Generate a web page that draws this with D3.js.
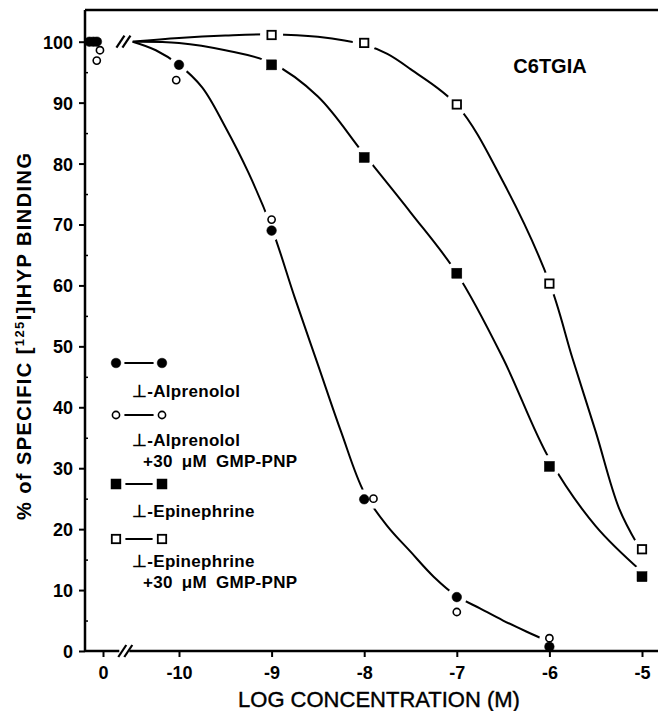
<!DOCTYPE html>
<html lang="en">
<head>
	<meta charset="utf-8">
	<title>C6TGIA binding</title>
	<script src="https://d3js.org/d3.v7.min.js"></script>
	<style>
		body { margin: 0; background: #fff; }
		svg text { font-family: "Liberation Sans", Arial, sans-serif; fill: #000; }
		.tick text { font-weight: bold; }
	</style>
</head>
<body>
	<script>
		var width = 658;
		var height = 711;

		// log concentration (M) ticks and y ticks
		var logConc = [-10, -9, -8, -7, -6, -5];
		var yTicks = [0, 10, 20, 30, 40, 50, 60, 70, 80, 90, 100];
		var yMinor = [5, 15, 25, 35, 45, 55, 65, 75, 85, 95];

		var alpX = [-10, -9, -8, -7, -6];
		var alpY = [96.2, 69, 24.9, 8.85, 0.7];
		var alpGmpX = [-10.03, -9, -7.9, -7, -6];
		var alpGmpY = [93.7, 70.8, 25, 6.4, 2.1];
		var epiX = [-9, -8, -7, -6, -5];
		var epiY = [96.2, 81, 62, 30.3, 12.2];
		var epiGmpX = [-9, -8, -7, -6, -5];
		var epiGmpY = [101.1, 99.8, 89.7, 60.3, 16.7];

		// control (no drug) points, plotted at "0"
		var ctlFilledX = [-0.85, -0.6, -0.38];
		var ctlFilledY = [100, 100, 100];
		var ctlOpenX = [-0.19, -0.39];
		var ctlOpenY = [98.6, 96.9];

		// hand-drawn fitted curves (log conc, % binding)
		var alpCurve = [[-10.5, 100], [-10.25, 98.6], [-10, 96.2], [-9.75, 92.5], [-9.5, 86],
			[-9.25, 78.5], [-9, 69.5], [-8.75, 58], [-8.5, 47], [-8.25, 36], [-8, 26],
			[-7.75, 20.5], [-7.5, 16.3], [-7.25, 12.2], [-7, 9], [-6.75, 7], [-6.5, 5],
			[-6.25, 3.2], [-6, 1.5]];
		var epiCurve = [[-10.5, 100], [-10, 99.8], [-9.5, 98.6], [-9, 96.5], [-8.5, 91],
			[-8, 81.5], [-7.5, 72], [-7, 62], [-6.5, 48], [-6, 31.5], [-5.5, 20.5], [-5, 13]];
		var epiGmpCurve = [[-10.5, 100], [-10, 100.6], [-9.5, 101], [-9, 101.2], [-8.5, 100.8],
			[-8, 99.5], [-7.75, 98], [-7.5, 95.5], [-7, 89.6], [-6.5, 77], [-6, 60.5],
			[-5.75, 48], [-5.5, 36], [-5.25, 23.5], [-5.05, 17.5]];

		var legendLabels = [
			["⊥-Alprenolol"],
			["⊥-Alprenolol", "+30 μM GMP-PNP"],
			["⊥-Epinephrine"],
			["⊥-Epinephrine", "+30 μM GMP-PNP"]
		];

		var svg = d3.select("body")
			.append("svg")
			.attr("width", width)
			.attr("height", height);

		var x = d3.scaleLinear().domain([-10, -5]).range([179, 642]);
		var ctl = d3.scaleLinear().domain([-1, 1]).range([87, 119]);   // broken-axis part at 0
		var y = d3.scaleLinear().domain([0, 100]).range([651, 41.7]);

		var axisX = 85;
		var topY = 10;

		// curves
		var line = d3.line()
			.x(function(d) { return x(d[0]); })
			.y(function(d) { return y(d[1]); })
			.curve(d3.curveCatmullRom.alpha(0.5));

		var curves = svg.append("g");
		[alpCurve, epiCurve, epiGmpCurve].forEach(function(c) {
			curves.append("path")
				.attr("d", line(c))
				.attr("fill", "none")
				.attr("stroke", "#000")
				.attr("stroke-width", 2);
		});

		// series: filled circle, open circle, filled square, open square
		var series = [
			{ xs: alpX, ys: alpY, shape: "circle", filled: true },
			{ xs: alpGmpX, ys: alpGmpY, shape: "circle", filled: false },
			{ xs: epiX, ys: epiY, shape: "square", filled: true },
			{ xs: epiGmpX, ys: epiGmpY, shape: "square", filled: false }
		];

		function drawMarker(g, cx, cy, shape, filled) {
			if (shape == "circle") {
				g.append("circle")
					.attr("cx", cx).attr("cy", cy)
					.attr("r", filled ? 4.8 : 3.6)
					.attr("fill", filled ? "#000" : "#fff")
					.attr("stroke", "#000")
					.attr("stroke-width", filled ? 0.5 : 1.6);
			} else {
				var s = filled ? 10 : 8.4;
				g.append("rect")
					.attr("x", cx - s / 2).attr("y", cy - s / 2)
					.attr("width", s).attr("height", s)
					.attr("fill", filled ? "#000" : "#fff")
					.attr("stroke", "#000")
					.attr("stroke-width", filled ? 0.5 : 1.8);
			}
		}

		// white halos make the gaps where the curves meet the points
		var halos = svg.append("g");
		series.forEach(function(s) {
			s.xs.forEach(function(v, i) {
				halos.append("circle")
					.attr("cx", x(v)).attr("cy", y(s.ys[i]))
					.attr("r", s.shape == "circle" ? 10 : 11.5)
					.attr("fill", "#fff");
			});
		});

		// legend
		var legend = svg.append("g");
		var legRowY = [363, 415, 484, 539];
		var legTextY = [[397], [446, 467], [517], [567, 588]];
		series.forEach(function(s, i) {
			var ly = legRowY[i];
			legend.append("line")
				.attr("x1", 116).attr("x2", 162)
				.attr("y1", ly).attr("y2", ly)
				.attr("stroke", "#000").attr("stroke-width", 2);
			[116, 162].forEach(function(lx) {
				legend.append("circle").attr("cx", lx).attr("cy", ly)
					.attr("r", s.shape == "circle" ? 8.5 : 9.5).attr("fill", "#fff");
			});
			[116, 162].forEach(function(lx) {
				drawMarker(legend, lx, ly, s.shape, s.filled);
			});
			legendLabels[i].forEach(function(t, j) {
				legend.append("text")
					.attr("x", j == 0 ? 132 : 143)
					.attr("y", legTextY[i][j])
					.attr("font-size", 17)
					.attr("font-weight", "bold")
					.attr("letter-spacing", 0.3)
					.attr("word-spacing", 4)
					.text(t);
			});
		});

		// axes
		var yAxis = svg.append("g")
			.attr("transform", "translate(" + axisX + ",0)")
			.call(d3.axisLeft(y).tickValues(yTicks).tickSize(6).tickPadding(6)
				.tickFormat(function(d) { return String(d); }));
		yAxis.select(".domain").remove();
		yAxis.selectAll(".tick text").attr("font-size", 18).attr("dy", "0.36em");

		var yMinorAxis = svg.append("g")
			.attr("transform", "translate(" + axisX + ",0)")
			.call(d3.axisRight(y).tickValues(yMinor).tickSize(3).tickFormat(""));
		yMinorAxis.select(".domain").remove();

		var xAxis = svg.append("g")
			.attr("transform", "translate(0," + y(0) + ")")
			.call(d3.axisBottom(x).tickValues(logConc).tickSize(6).tickPadding(9)
				.tickFormat(function(d) { return String(d); }));
		xAxis.select(".domain").remove();

		var ctlAxis = svg.append("g")
			.attr("transform", "translate(0," + y(0) + ")")
			.call(d3.axisBottom(ctl).tickValues([0]).tickSize(6).tickPadding(9)
				.tickFormat(function(d) { return String(d); }));
		ctlAxis.select(".domain").remove();

		svg.selectAll(".tick line").attr("stroke-width", 2);
		yMinorAxis.selectAll(".tick line").attr("stroke-width", 1.5);
		xAxis.selectAll(".tick text").attr("font-size", 18);
		ctlAxis.selectAll(".tick text").attr("font-size", 18);

		// frame lines
		svg.append("line")
			.attr("x1", axisX).attr("x2", axisX)
			.attr("y1", topY).attr("y2", y(0) + 1)
			.attr("stroke", "#000").attr("stroke-width", 2.5);
		svg.append("line")
			.attr("x1", axisX).attr("x2", width)
			.attr("y1", topY).attr("y2", topY)
			.attr("stroke", "#000").attr("stroke-width", 2.5);
		svg.append("line")
			.attr("x1", axisX).attr("x2", width)
			.attr("y1", y(0)).attr("y2", y(0))
			.attr("stroke", "#000").attr("stroke-width", 2.5);

		// axis break marks
		function slashes(cx, cy, gap) {
			if (gap) {
				svg.append("rect")
					.attr("x", cx - 6).attr("y", cy - 2).attr("width", 10).attr("height", 4)
					.attr("fill", "#fff");
			}
			[-3, 3].forEach(function(o) {
				svg.append("line")
					.attr("x1", cx + o - 4).attr("y1", cy + 6)
					.attr("x2", cx + o + 4).attr("y2", cy - 6)
					.attr("stroke", "#000").attr("stroke-width", 2.2);
			});
		}
		slashes(x(-10.58), y(0), true);
		slashes(x(-10.6), y(100), false);

		// markers
		var marks = svg.append("g");
		series.forEach(function(s) {
			s.xs.forEach(function(v, i) {
				drawMarker(marks, x(v), y(s.ys[i]), s.shape, s.filled);
			});
		});
		ctlFilledX.forEach(function(v, i) {
			drawMarker(marks, ctl(v), y(ctlFilledY[i]), "circle", true);
		});
		ctlOpenX.forEach(function(v, i) {
			drawMarker(marks, ctl(v), y(ctlOpenY[i]), "circle", false);
		});

		// titles
		svg.append("text")
			.attr("x", 550).attr("y", 73)
			.attr("text-anchor", "middle")
			.attr("font-size", 20)
			.attr("font-weight", "bold")
			.text("C6TGIA");

		svg.append("text")
			.attr("x", 379).attr("y", 707)
			.attr("text-anchor", "middle")
			.attr("font-size", 22)
			.attr("stroke", "#000").attr("stroke-width", 0.4)
			.text("LOG CONCENTRATION (M)");

		var yt = svg.append("text")
			.attr("transform", "translate(31,520) rotate(-90)")
			.attr("text-anchor", "start")
			.attr("font-size", 20)
			.attr("font-weight", "bold")
			.attr("textLength", 367)
			.attr("lengthAdjust", "spacing");
		yt.append("tspan").text("% of SPECIFIC [");
		yt.append("tspan").attr("font-size", 13).attr("dy", -7).text("125");
		yt.append("tspan").attr("dy", 7).text("I]IHYP BINDING");
	</script>
</body>
</html>
